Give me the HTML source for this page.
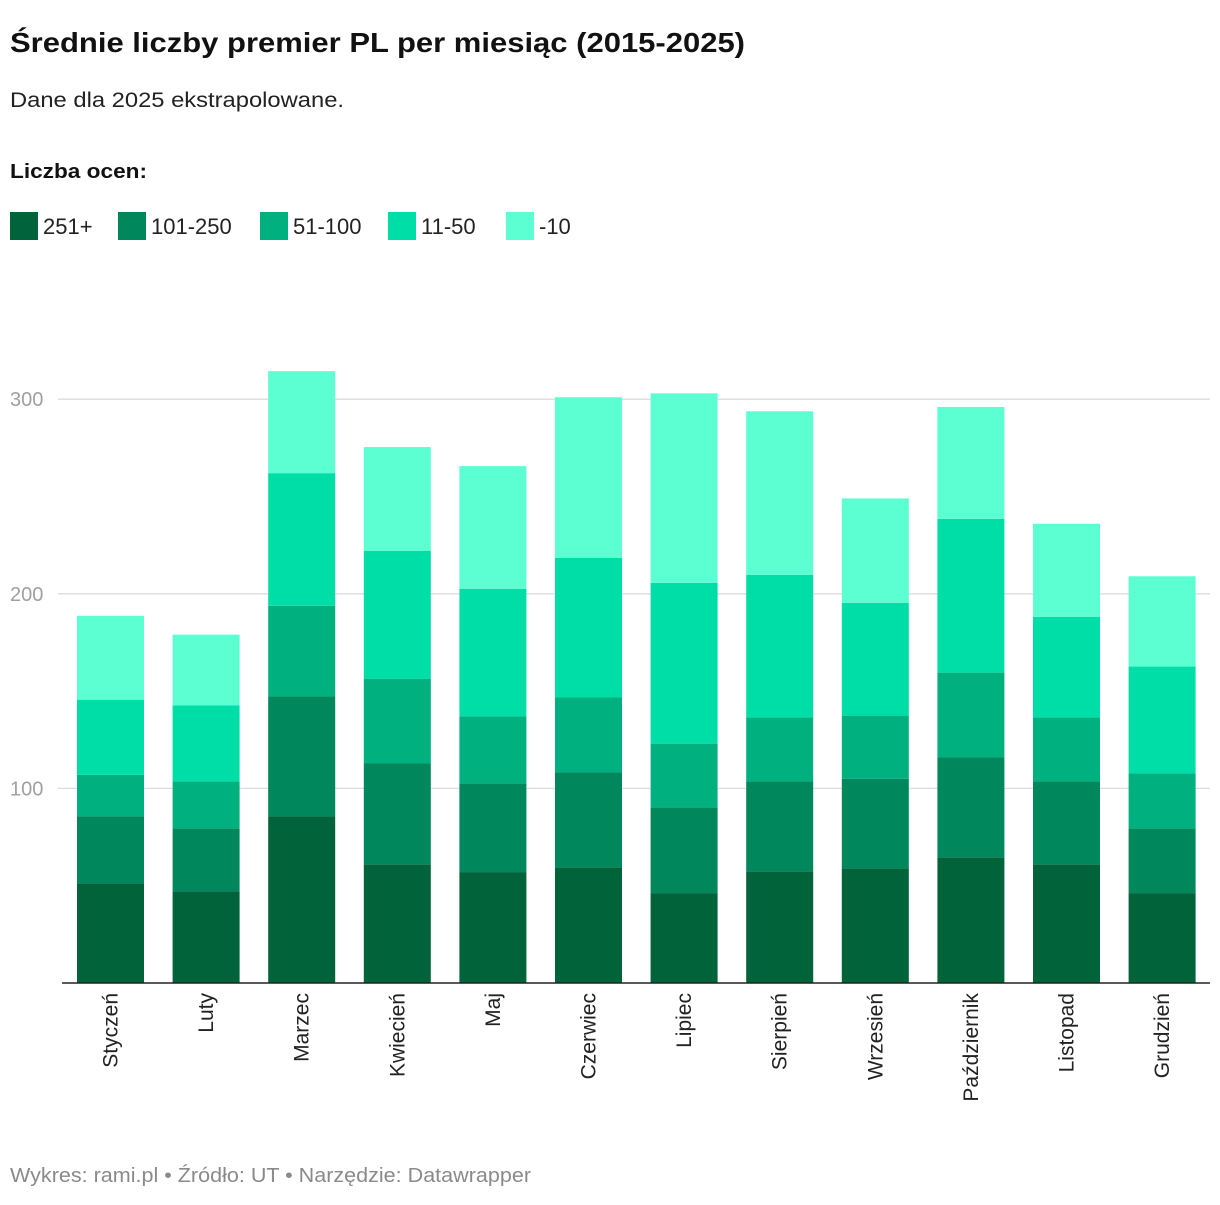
<!DOCTYPE html>
<html><head><meta charset="utf-8"><style>
body{margin:0;background:#fff;font-family:"Liberation Sans",Roboto,sans-serif;}
svg text{font-family:"Liberation Sans",sans-serif;}
</style></head><body>
<svg id="c" width="1220" height="1200" xmlns="http://www.w3.org/2000/svg">
<text x="10" y="52" font-size="28" font-weight="bold" fill="#111" textLength="735" lengthAdjust="spacingAndGlyphs">Średnie liczby premier PL per miesiąc (2015-2025)</text>
<text x="10" y="107" font-size="21" fill="#222" textLength="334" lengthAdjust="spacingAndGlyphs">Dane dla 2025 ekstrapolowane.</text>
<text x="10" y="178" font-size="20" font-weight="bold" fill="#111" textLength="137" lengthAdjust="spacingAndGlyphs">Liczba ocen:</text>
<g id="legend"></g>
<g id="grid"></g>
<g id="bars"></g>
<line x1="62" x2="1210" y1="983" y2="983" stroke="#222" stroke-width="1.5"/>
<g id="xl"></g>
<text x="10" y="1182" font-size="20" fill="#8a8a8a" textLength="521" lengthAdjust="spacingAndGlyphs">Wykres: rami.pl • Źródło: UT • Narzędzie: Datawrapper</text>
</svg>
<script>
const categories=["Styczeń","Luty","Marzec","Kwiecień","Maj","Czerwiec","Lipiec","Sierpień","Wrzesień","Październik","Listopad","Grudzień"];
const seriesNames=["251+","101-250","51-100","11-50","-10"];
const s251=[51.3,47.2,85.6,61,57,59.5,46.2,57.4,59,64.6,61,46.2];
const s101=[34.3,32.3,61.6,51.8,45.6,48.7,44.1,46.2,46,51.3,42.6,33.3];
const s51=[21.4,24.1,46.6,43.6,34.4,38.5,32.7,32.8,32.4,43.6,32.8,28.2];
const s11=[38.6,39,68.2,65.6,65.6,71.8,82.6,73.3,58,79,51.8,54.9];
const s10=[43.1,36.4,52.4,53.4,63,82.5,97.4,84.1,53.6,57.5,47.8,46.4];
const yTicks=[100,200,300];
const series=[s251,s101,s51,s11,s10];
const colors=["#00633a","#00875b","#00b07f","#00dea7","#5bffd2"];
const NS="http://www.w3.org/2000/svg";
const y=v=>983-v*1.946;
const x=i=>77+i*95.6;
const bw=67;
function mk(t,a,p){const e=document.createElementNS(NS,t);for(const k in a)e.setAttribute(k,a[k]);p.appendChild(e);return e;}
const lg=document.getElementById('legend');
let lx=10;const lw=[108,142,128,118,80];
seriesNames.forEach((n,i)=>{
 const r=mk('rect',{x:lx,y:212,width:28,height:28,fill:colors[i]},lg);
 
 
 const t=mk('text',{x:lx+33,y:234,'font-size':22,fill:'#222'},lg);t.textContent=n;
 
 
 lx+=lw[i];
});
const gg=document.getElementById('grid');
yTicks.forEach(v=>{
 const l=mk('line',{x1:58,x2:1210,y1:y(v),y2:y(v),stroke:'#dcdcdc','stroke-width':1.3},gg);
 
 
 const t=mk('text',{x:10,y:y(v)+7,'font-size':20,fill:'#a0a0a0'},gg);t.textContent=v;
 
 
});
const bg=document.getElementById('bars');const xl=document.getElementById('xl');
categories.forEach((c,i)=>{
 let cum=0;
 series.forEach((s,j)=>{
  const top=cum+s[i];
  const r=mk('rect',{x:x(i),y:y(top),width:bw,height:y(cum)-y(top),fill:colors[j]},bg);
  
  
  cum=top;
 });
 const cx=x(i)+bw/2+7;
 const t=mk('text',{x:cx,y:993,'font-size':21,fill:'#222','text-anchor':'end',transform:`rotate(-90 ${cx} 993)`},xl);
 t.textContent=c;
 
 
});
</script>
</body></html>
